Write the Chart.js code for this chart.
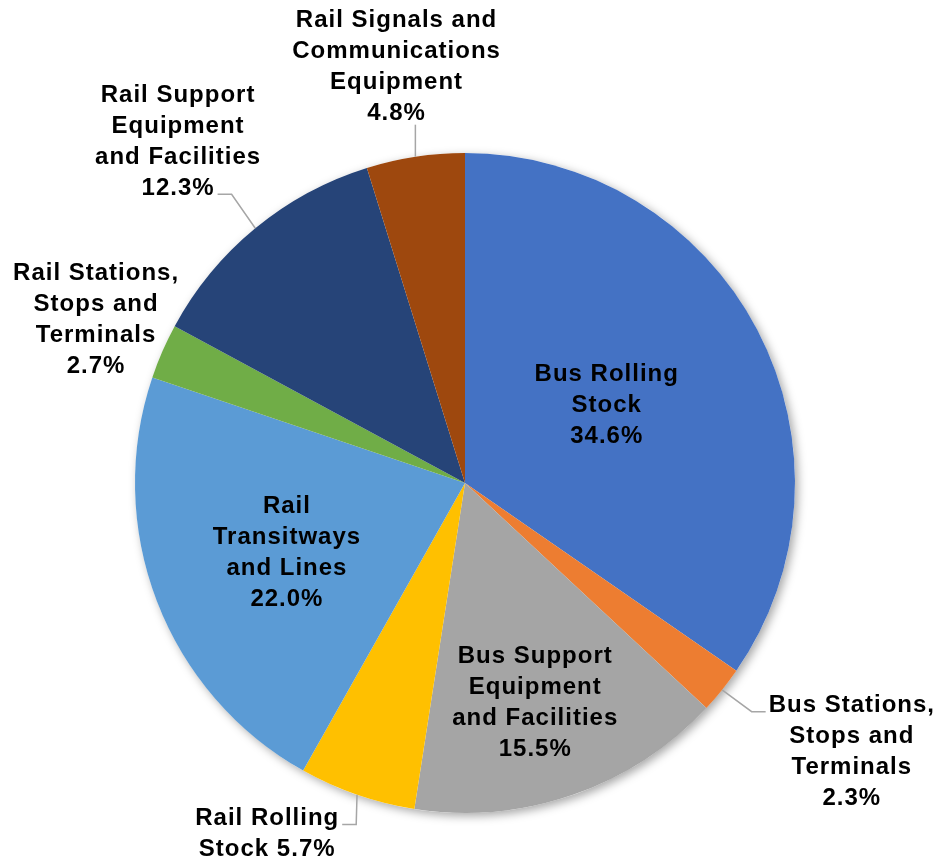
<!DOCTYPE html>
<html>
<head>
<meta charset="utf-8">
<script src="https://cdn.jsdelivr.net/npm/chart.js@4.4.1/dist/chart.umd.min.js"></script>
<style>
  html, body { margin: 0; padding: 0; background: #fff; }
  #wrap { width: 938px; height: 863px; position: relative; }
</style>
</head>
<body>
<div id="wrap"><canvas id="pieChart"></canvas></div>
<script>
const categories = [
  "Bus Rolling Stock",
  "Bus Stations, Stops and Terminals",
  "Bus Support Equipment and Facilities",
  "Rail Rolling Stock",
  "Rail Transitways and Lines",
  "Rail Stations, Stops and Terminals",
  "Rail Support Equipment and Facilities",
  "Rail Signals and Communications Equipment"
];
const shares = [34.6, 2.3, 15.5, 5.7, 22.0, 2.7, 12.3, 4.8];

// how each category name wraps in its data label
const labelLines = [
  ["Bus Rolling", "Stock"],
  ["Bus Stations,", "Stops and", "Terminals"],
  ["Bus Support", "Equipment", "and Facilities"],
  ["Rail Rolling", "Stock"],
  ["Rail", "Transitways", "and Lines"],
  ["Rail Stations,", "Stops and", "Terminals"],
  ["Rail Support", "Equipment", "and Facilities"],
  ["Rail Signals and", "Communications", "Equipment"]
];

const colors = ["#4472C4", "#ED7D31", "#A5A5A5", "#FFC000", "#5B9BD5", "#70AD47", "#264478", "#9E480E"];

// label placement: distance as a fraction of the radius, angle shift (deg) from the slice middle
const placement = [
  { r: 0.49, shift: -1.1 },
  { r: 1.428, shift: -4.0, leader: true },
  { r: 0.70, shift: 1.4 },
  { r: 1.221, shift: 10.3, leader: true, pctInline: true },
  { r: 0.58, shift: -0.5 },
  { r: 1.222, shift: 0.3 },
  { r: 1.351, shift: -0.6, leader: true },
  { r: 1.277, shift: -0.7, leader: true }
];

const LABEL_FONT = "bold 24px 'Liberation Sans', Arial, sans-serif";
const LINE_H = 31;

const pieShadow = {
  id: "pieShadow",
  beforeDatasetsDraw(chart) {
    const arc = chart.getDatasetMeta(0).data[0];
    if (!arc) return;
    const ctx = chart.ctx;
    ctx.save();
    ctx.shadowColor = "rgba(0,0,0,0.35)";
    ctx.shadowBlur = 10;
    ctx.shadowOffsetX = 3;
    ctx.shadowOffsetY = 3;
    ctx.fillStyle = "#fff";
    ctx.beginPath();
    ctx.arc(arc.x, arc.y, arc.outerRadius, 0, Math.PI * 2);
    ctx.fill();
    ctx.restore();
  }
};

const sliceLabels = {
  id: "sliceLabels",
  afterDatasetsDraw(chart) {
    const ctx = chart.ctx;
    const meta = chart.getDatasetMeta(0);
    ctx.save();
    ctx.font = LABEL_FONT;
    if ("letterSpacing" in ctx) ctx.letterSpacing = "1px";
    ctx.textAlign = "center";
    ctx.textBaseline = "middle";
    ctx.fillStyle = "#000";

    meta.data.forEach((arc, i) => {
      const p = placement[i];
      const R = arc.outerRadius;
      const mid = (arc.startAngle + arc.endAngle) / 2;
      const a = mid + p.shift * Math.PI / 180;
      const cx = arc.x + Math.cos(a) * R * p.r;
      const cy = arc.y + Math.sin(a) * R * p.r;

      const pct = shares[i].toFixed(1) + "%";
      const lines = [...labelLines[i]];
      if (p.pctInline) lines[lines.length - 1] += " " + pct;
      else lines.push(pct);

      const top = cy - (lines.length - 1) * LINE_H / 2;
      lines.forEach((t, k) => ctx.fillText(t, cx, top + k * LINE_H));

      if (!p.leader) return;

      // leader line from the slice edge to the nearest text line
      const px = arc.x + Math.cos(mid) * R;
      const py = arc.y + Math.sin(mid) * R;
      let best = 0;
      lines.forEach((t, k) => {
        if (Math.abs(top + k * LINE_H - py) < Math.abs(top + best * LINE_H - py)) best = k;
      });
      const ly = top + best * LINE_H;
      const half = ctx.measureText(lines[best]).width / 2;

      ctx.save();
      ctx.strokeStyle = "#A6A6A6";
      ctx.lineWidth = 1.5;
      ctx.beginPath();
      ctx.moveTo(px, py);
      if (px > cx - half && px < cx + half) {
        const edge = py > ly ? ly + 11 : ly - 13;
        ctx.lineTo(px, edge);
      } else {
        const tailY = ly + 6;
        const right = px > cx;
        const endX = right ? cx + half + 3 : cx - half - 3;
        const elbowX = right ? endX + 14 : endX - 14;
        ctx.lineTo(elbowX, tailY);
        ctx.lineTo(endX, tailY);
      }
      ctx.stroke();
      ctx.restore();
    });
    ctx.restore();
  }
};

new Chart(document.getElementById("pieChart"), {
  type: "pie",
  data: {
    labels: categories,
    datasets: [{
      data: shares,
      backgroundColor: colors,
      borderWidth: 0
    }]
  },
  options: {
    responsive: true,
    maintainAspectRatio: false,
    animation: false,
    layout: { padding: { top: 153, bottom: 50, left: 135, right: 143 } },
    plugins: {
      legend: { display: false },
      tooltip: { enabled: false }
    }
  },
  plugins: [pieShadow, sliceLabels]
});
</script>
</body>
</html>
